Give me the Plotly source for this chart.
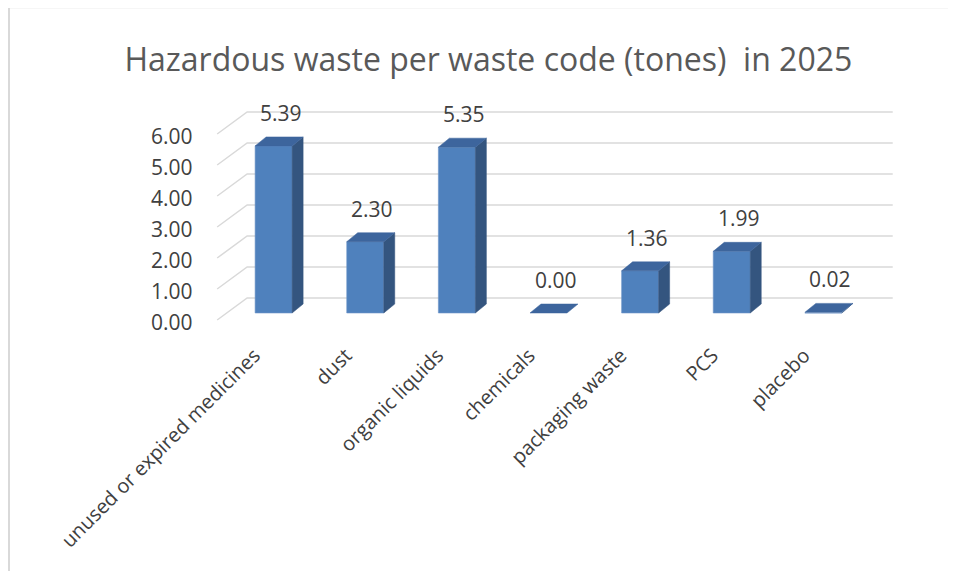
import plotly.graph_objs as go

# data
categories = ['unused or expired medicines', 'dust', 'organic liquids', 'chemicals',
              'packaging waste', 'PCS', 'placebo']
values = [5.39, 2.30, 5.35, 0.00, 1.36, 1.99, 0.02]
y_ticks = [0, 1, 2, 3, 4, 5, 6]
y_tick_labels = ['0.00', '1.00', '2.00', '3.00', '4.00', '5.00', '6.00']
title_text = 'Hazardous waste per waste code (tones)  in 2025'

# fake 3d geometry (in axis units)
half_w = 0.202      # half width of the bar front face
depth_x = 0.12      # bar depth, horizontal part
depth_y = 0.29      # bar depth, vertical part
wall_x0, wall_x1, wall_x2 = -0.616, -0.289, 6.757
front_dy, back_dy = -0.226, 0.484

front_col = '#4f81bd'
side_col = '#34557f'
top_col = '#3d659d'
grid_col = '#d9d9d9'
text_col = '#404040'

fig = go.Figure()

# back wall + side wall gridlines
for v in y_ticks:
    fig.add_trace(go.Scatter(
        x=[wall_x0, wall_x1, wall_x2],
        y=[v + front_dy, v + back_dy, v + back_dy],
        mode='lines',
        line=dict(color=grid_col, width=1.5),
        hoverinfo='skip',
        showlegend=False
    ))

# bars: front face, side face, top face
for i, v in enumerate(values):
    xl, xr = i - half_w, i + half_w
    if v > 0:
        fig.add_trace(go.Scatter(
            x=[xl, xr, xr, xl, xl],
            y=[0, 0, v, v, 0],
            mode='lines', fill='toself',
            fillcolor=front_col, line=dict(color='#6f95c9', width=0.6),
            hoverinfo='skip', showlegend=False
        ))
        fig.add_trace(go.Scatter(
            x=[xr, xr + depth_x, xr + depth_x, xr, xr],
            y=[0, depth_y, v + depth_y, v, 0],
            mode='lines', fill='toself',
            fillcolor=side_col, line=dict(color=side_col, width=0.5),
            hoverinfo='skip', showlegend=False
        ))
    fig.add_trace(go.Scatter(
        x=[xl, xr, xr + depth_x, xl + depth_x, xl],
        y=[v, v, v + depth_y, v + depth_y, v],
        mode='lines', fill='toself',
        fillcolor=top_col, line=dict(color=top_col, width=0.5),
        hoverinfo='skip', showlegend=False
    ))

annotations = []
# data labels
for i, v in enumerate(values):
    annotations.append(dict(
        x=i, y=v, xref='x', yref='y', text=f'{v:.2f}', showarrow=False,
        xshift=7, yshift=33, font=dict(family='Open Sans', size=21, color=text_col)
    ))
# value axis labels on the front plane
for v, lab in zip(y_ticks, y_tick_labels):
    annotations.append(dict(
        x=-0.855, y=v - 0.29, xref='x', yref='y', text=lab, showarrow=False,
        xanchor='right', yanchor='middle',
        font=dict(family='Open Sans', size=21, color=text_col)
    ))

# note: the page body has an 8px margin, so the figure is a bit smaller than the window
fig.update_layout(
    title=dict(text=title_text, x=0.511, xref='container', xanchor='center',
               y=0.9076, yref='container', yanchor='middle',
               font=dict(family='Open Sans', size=32, color='#595959')),
    width=940, height=563,
    margin=dict(l=174, r=33, t=82, b=232),
    paper_bgcolor='white', plot_bgcolor='white',
    xaxis=dict(range=[-1, 7], showgrid=False, zeroline=False, showline=False,
               tickmode='array', tickvals=[i - 0.21 for i in range(len(categories))],
               ticktext=categories, tickangle=-45, ticks='',
               tickfont=dict(family='Open Sans', size=20, color=text_col)),
    yaxis=dict(range=[-0.839, 7.194], visible=False),
    annotations=annotations,
    # chart border (only top and left edges are in view)
    shapes=[
        dict(type='line', xref='paper', yref='paper',
             x0=-0.2360, x1=1.2, y0=1.3327, y1=1.3327,
             line=dict(color=grid_col, width=2), layer='below'),
        dict(type='line', xref='paper', yref='paper',
             x0=-0.2360, x1=-0.2360, y0=-1.5, y1=1.3327,
             line=dict(color=grid_col, width=2), layer='below'),
    ],
    showlegend=False
)

fig.write_html('out.html')
